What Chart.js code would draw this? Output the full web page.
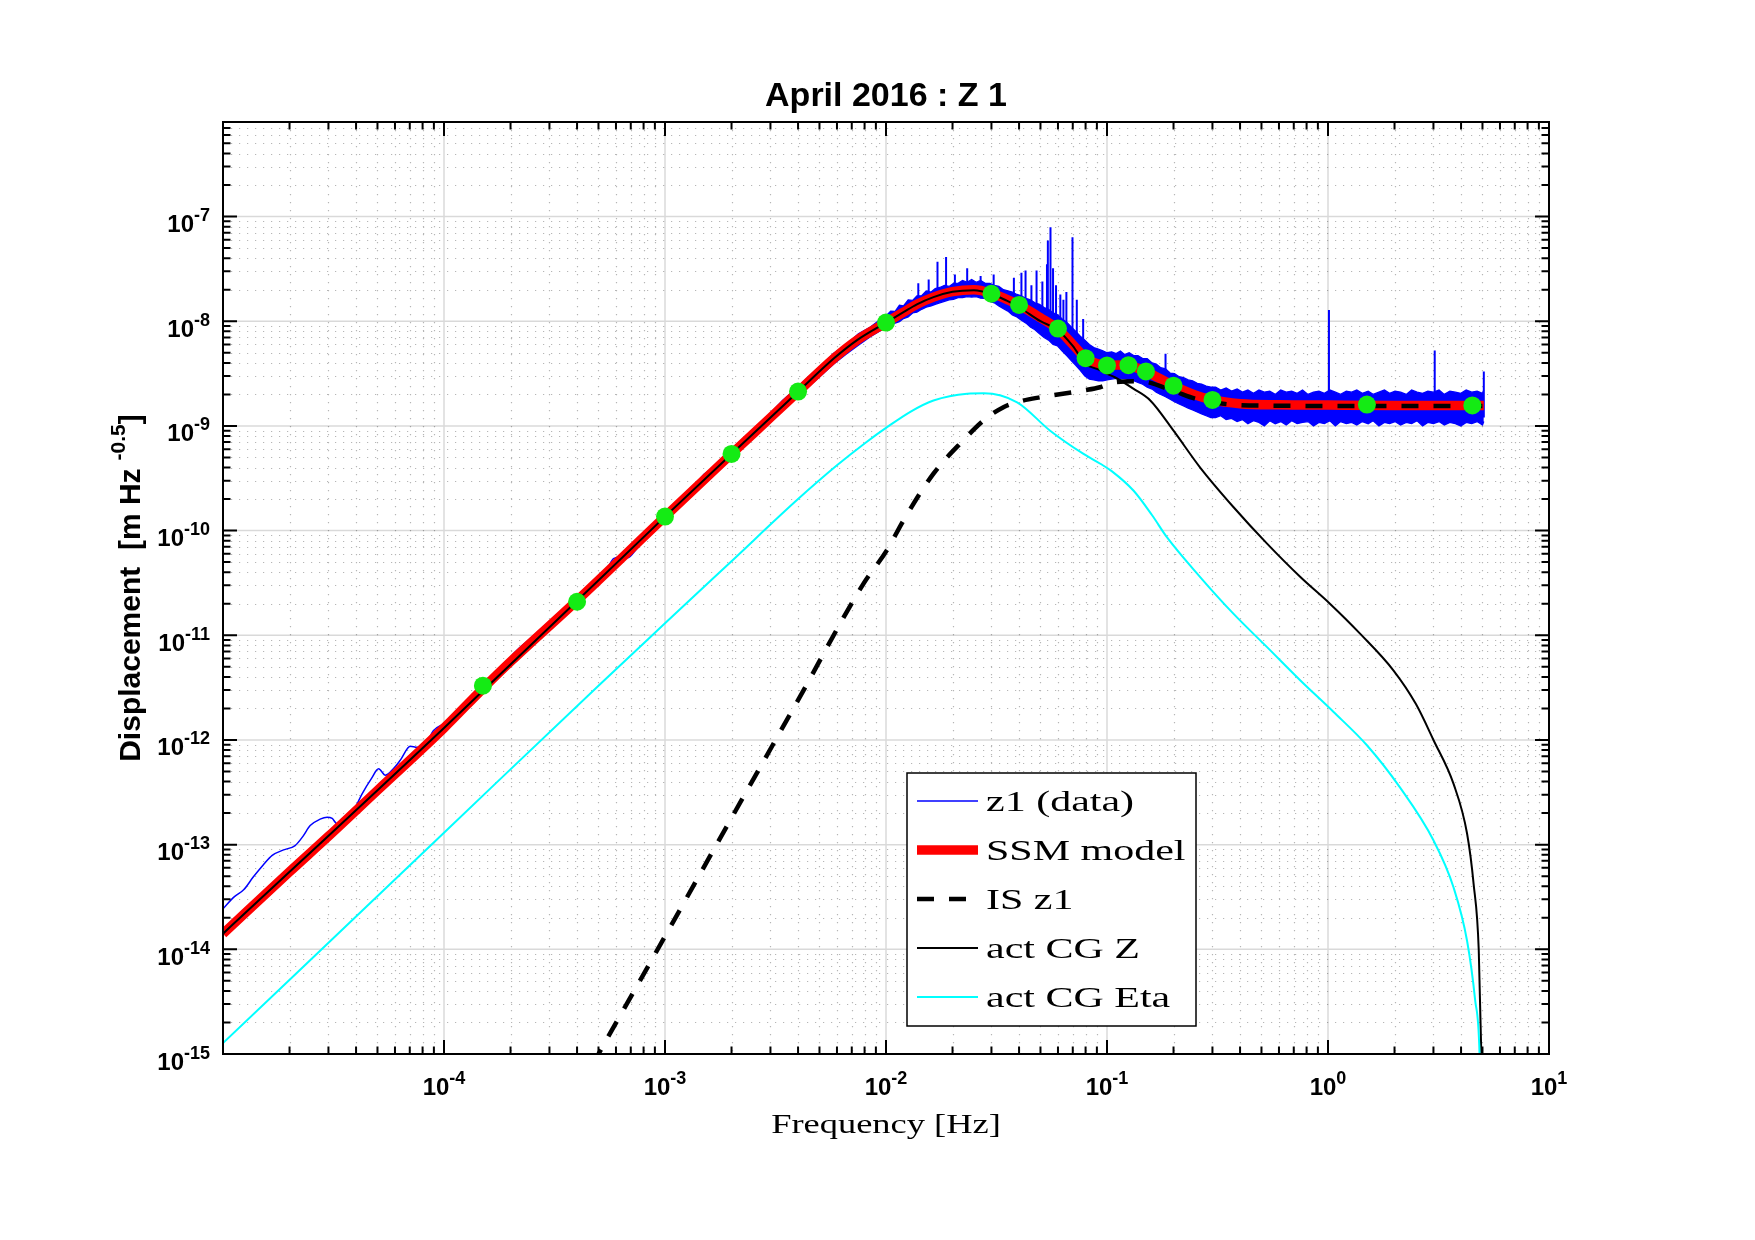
<!DOCTYPE html>
<html>
<head>
<meta charset="utf-8">
<title>April 2016 : Z 1</title>
<script src="https://cdn.jsdelivr.net/npm/chart.js@4.4.1/dist/chart.umd.min.js"></script>
<style>
  html, body { margin: 0; padding: 0; background: #fff; }
  canvas { display: block; }
</style>
</head>
<body>
<canvas id="psd" width="1755" height="1240"></canvas>
<script>
/* ---------- AXES ---------- */
const xLimits = [1e-5, 10];
const yLimits = [1e-15, 8e-7];
const xTickExps = [-4, -3, -2, -1, 0, 1];
const yTickExps = [-15, -14, -13, -12, -11, -10, -9, -8, -7];
const minorSteps = [2, 3, 4, 5, 6, 7, 8, 9];

/* ---------- SSM MODEL (red) ---------- */
const modelF = [1e-5, 2e-5, 3e-5, 5e-5, 1e-4, 1.5e-4, 2e-4, 4e-4, 1e-3, 2e-3, 3e-3, 4e-3,
  5.8e-3, 7.4e-3, 1e-2, 1.2e-2, 1.38e-2, 1.64e-2, 2e-2, 2.5e-2, 3e-2, 3.5e-2, 4e-2, 5e-2,
  6e-2, 7e-2, 8e-2, 9e-2, 0.1, 0.112, 0.125, 0.15, 0.2, 0.25, 0.3, 0.4, 0.6, 1.0, 2.0, 5.07];
const modelV = [1.41e-14, 5.5e-14, 1.2e-13, 3.3e-13, 1.3e-12, 3.1e-12, 5.6e-12, 2.15e-11, 1.36e-10, 5.4e-10, 1.2e-9, 2.12e-9,
  4.4e-9, 6.6e-9, 9.7e-9, 1.22e-8, 1.45e-8, 1.7e-8, 1.92e-8, 2.0e-8, 1.85e-8, 1.63e-8, 1.43e-8, 1.08e-8,
  8.4e-9, 6.0e-9, 4.45e-9, 3.95e-9, 3.78e-9, 3.82e-9, 3.78e-9, 3.3e-9, 2.42e-9, 1.98e-9, 1.77e-9, 1.63e-9, 1.59e-9, 1.58e-9, 1.57e-9, 1.57e-9];

/* ---------- IS z1 (dashed) ---------- */
const isF = [4.0e-4, 5.0e-4, 1.0e-3, 2.0e-3, 4.0e-3, 7.9e-3, 1.01e-2, 1.2e-2, 1.64e-2, 2.24e-2, 2.77e-2,
  3.4e-2, 4.06e-2, 5.0e-2, 7.8e-2, 9.3e-2, 0.107, 0.141, 0.2, 0.25, 0.3, 0.4, 0.6, 1.0, 5.07];
const isV = [4.3e-16, 1.0e-15, 1.33e-14, 1.8e-13, 2.4e-12, 3.1e-11, 6.5e-11, 1.25e-10, 3.5e-10, 7.3e-10, 1.13e-9,
  1.51e-9, 1.72e-9, 1.88e-9, 2.18e-9, 2.34e-9, 2.6e-9, 2.67e-9, 2.15e-9, 1.82e-9, 1.68e-9, 1.58e-9, 1.56e-9, 1.55e-9, 1.55e-9];

/* ---------- act CG Z (black) ---------- */
const czF = [1e-5, 1e-4, 1e-3, 2e-3, 4e-3, 5.8e-3, 7.4e-3, 1e-2, 1.2e-2, 1.38e-2, 1.64e-2, 2e-2, 2.5e-2,
  3e-2, 3.5e-2, 4e-2, 5e-2, 6e-2, 7e-2, 8e-2, 9e-2, 0.1, 0.109, 0.132, 0.157, 0.2, 0.264, 0.374,
  0.53, 0.75, 1.02, 1.4, 1.98, 2.5, 3.0, 3.7, 4.26, 4.56, 4.81, 4.94, 5.0];
const czV = [1.41e-14, 1.3e-12, 1.36e-10, 5.4e-10, 2.12e-9, 4.4e-9, 6.6e-9, 9.7e-9, 1.22e-8, 1.45e-8, 1.7e-8, 1.91e-8, 1.98e-8,
  1.82e-8, 1.58e-8, 1.36e-8, 1.0e-8, 8.2e-9, 5.8e-9, 3.9e-9, 3.5e-9, 3.15e-9, 2.9e-9, 2.26e-9, 1.75e-9, 9.0e-10, 4.0e-10, 1.67e-10,
  7.5e-11, 3.6e-11, 2.0e-11, 1.03e-11, 4.6e-12, 2.2e-12, 1.0e-12, 3.8e-13, 1.27e-13, 4.2e-14, 9.8e-15, 1.0e-15, 2.0e-16];

/* ---------- act CG Eta (cyan) ---------- */
const ceF = [1e-5, 1e-4, 5e-4, 1e-3, 2e-3, 4e-3, 6e-3, 8e-3, 1.03e-2, 1.3e-2, 1.64e-2, 2.33e-2, 2.77e-2, 3.92e-2,
  5.53e-2, 7.83e-2, 9.33e-2, 0.105, 0.132, 0.16, 0.187, 0.264, 0.374, 0.53, 0.75, 1.06, 1.5,
  2.12, 3.0, 3.7, 4.26, 4.63, 4.85, 4.92];
const ceV = [1.27e-15, 1.3e-13, 3.3e-12, 1.3e-11, 5.1e-11, 2.0e-10, 4.2e-10, 6.8e-10, 1.0e-9, 1.38e-9, 1.75e-9, 2.03e-9, 2.05e-9, 1.68e-9,
  9.0e-10, 5.4e-10, 4.35e-10, 3.7e-10, 2.4e-10, 1.4e-10, 8.6e-11, 3.6e-11, 1.6e-11, 7.7e-12, 3.7e-12, 1.85e-12, 8.9e-13,
  3.5e-13, 1.1e-13, 3.9e-14, 1.2e-14, 3.3e-15, 1.0e-15, 2.0e-16];

/* ---------- z1 DATA (blue) : low-frequency trace ---------- */
const lowF = [1.0e-5, 1.12e-5, 1.24e-5, 1.37e-5, 1.52e-5, 1.67e-5, 1.88e-5, 2.12e-5, 2.3e-5, 2.48e-5,
  2.75e-5, 2.96e-5, 3.12e-5, 3.28e-5, 3.6e-5, 3.97e-5, 4.26e-5, 4.7e-5, 5.06e-5, 5.43e-5,
  5.9e-5, 6.34e-5, 7.04e-5, 7.55e-5, 8.2e-5, 8.97e-5, 1.01e-4, 1.2e-4, 1.49e-4, 1.8e-4,
  2.06e-4, 2.5e-4, 3.0e-4, 3.5e-4, 4.0e-4, 4.5e-4, 5.0e-4, 5.5e-4, 5.85e-4, 6.3e-4,
  6.8e-4, 7.4e-4, 8.0e-4, 8.7e-4, 9.3e-4, 1.0e-3];
const lowV = [2.44e-14, 3.15e-14, 3.7e-14, 4.9e-14, 6.4e-14, 7.9e-14, 8.9e-14, 9.8e-14, 1.2e-13, 1.52e-13,
  1.75e-13, 1.83e-13, 1.78e-13, 1.58e-13, 1.8e-13, 2.28e-13, 3.06e-13, 4.3e-13, 5.3e-13, 4.6e-13,
  5.3e-13, 6.4e-13, 8.7e-13, 8.5e-13, 8.9e-13, 1.23e-12, 1.45e-12, 2.05e-12, 3.3e-12, 4.6e-12,
  6.65e-12, 9.6e-12, 1.35e-11, 1.7e-11, 2.15e-11, 2.8e-11, 3.4e-11, 4.4e-11, 5.4e-11, 5.6e-11,
  5.5e-11, 6.6e-11, 8.0e-11, 1.0e-10, 1.15e-10, 1.36e-10];

/* ---------- z1 DATA (blue) : noise band, upper / lower edge ---------- */
const bandF = [
  1.0e-3, 1.15e-3, 1.3e-3, 1.5e-3, 1.7e-3, 2.0e-3, 2.3e-3, 2.6e-3, 3.0e-3, 3.4e-3,
  3.9e-3, 4.5e-3, 5.1e-3, 5.8e-3, 6.6e-3, 7.5e-3, 8.5e-3, 9.6e-3,
  1.00e-2, 1.05e-2, 1.10e-2, 1.15e-2, 1.20e-2, 1.26e-2, 1.32e-2, 1.38e-2, 1.45e-2, 1.52e-2,
  1.60e-2, 1.67e-2, 1.75e-2, 1.84e-2, 1.93e-2, 2.02e-2, 2.12e-2, 2.22e-2, 2.33e-2, 2.44e-2,
  2.56e-2, 2.68e-2, 2.81e-2, 2.95e-2, 3.09e-2, 3.24e-2, 3.40e-2, 3.56e-2, 3.73e-2, 3.91e-2,
  4.10e-2, 4.30e-2, 4.50e-2, 4.72e-2, 4.95e-2, 5.19e-2, 5.44e-2, 5.70e-2, 5.98e-2, 6.27e-2,
  6.57e-2, 6.89e-2, 7.22e-2, 7.57e-2, 7.94e-2, 8.32e-2, 8.72e-2, 9.14e-2, 9.58e-2,
  0.100, 0.105, 0.110, 0.115, 0.120, 0.126, 0.132, 0.138, 0.145, 0.152,
  0.160, 0.167, 0.175, 0.184, 0.193, 0.202, 0.212, 0.222, 0.233, 0.244,
  0.256, 0.268, 0.281, 0.295,
  0.31, 0.327, 0.346, 0.366, 0.388, 0.41, 0.434, 0.46, 0.487, 0.515,
  0.545, 0.577, 0.611, 0.647, 0.685, 0.725, 0.767, 0.812, 0.86, 0.91,
  0.963, 1.02, 1.08, 1.14, 1.21, 1.28, 1.35, 1.43, 1.52, 1.6,
  1.7, 1.8, 1.9, 2.01, 2.13, 2.26, 2.39, 2.53, 2.68, 2.83,
  3.0, 3.18, 3.36, 3.56, 3.77, 3.99, 4.22, 4.47, 4.73, 5.0,
  5.07];
const bandHi = [
  1.45e-10, 1.98e-10, 2.45e-10, 3.45e-10, 4.2e-10, 6.1e-10, 7.7e-10, 1.0e-9, 1.32e-9, 1.75e-9,
  2.25e-9, 3.0e-9, 3.75e-9, 4.95e-9, 5.95e-9, 7.6e-9, 8.8e-9, 1.07e-8,
  1.12e-8, 1.25e-8, 1.24e-8, 1.42e-8, 1.40e-8, 1.60e-8, 1.58e-8, 1.75e-8, 1.75e-8, 1.95e-8,
  1.90e-8, 2.05e-8, 2.10e-8, 2.20e-8, 2.15e-8, 2.30e-8, 2.30e-8, 2.45e-8, 2.35e-8, 2.50e-8,
  2.35e-8, 2.45e-8, 2.30e-8, 2.30e-8, 2.20e-8, 2.15e-8, 2.00e-8, 1.95e-8, 1.90e-8, 1.80e-8,
  1.75e-8, 1.65e-8, 1.60e-8, 1.50e-8, 1.45e-8, 1.35e-8, 1.30e-8, 1.20e-8, 1.15e-8, 1.05e-8,
  9.8e-9, 8.8e-9, 8.0e-9, 7.2e-9, 6.6e-9, 6.0e-9, 5.6e-9, 5.4e-9, 5.2e-9,
  5.0e-9, 5.1e-9, 4.9e-9, 5.2e-9, 4.8e-9, 5.0e-9, 4.7e-9, 4.7e-9, 4.4e-9, 4.4e-9,
  4.0e-9, 3.9e-9, 3.6e-9, 3.5e-9, 3.2e-9, 3.15e-9, 2.95e-9, 2.9e-9, 2.75e-9, 2.7e-9,
  2.55e-9, 2.5e-9, 2.4e-9, 2.35e-9,
  2.35e-9, 2.2e-9, 2.3e-9, 2.15e-9, 2.25e-9, 2.1e-9, 2.2e-9, 2.05e-9, 2.2e-9, 2.1e-9,
  2.15e-9, 2.0e-9, 2.2e-9, 2.1e-9, 2.15e-9, 2.05e-9, 2.2e-9, 2.0e-9, 2.1e-9, 2.15e-9,
  2.05e-9, 2.2e-9, 2.1e-9, 2.0e-9, 2.15e-9, 2.1e-9, 2.2e-9, 2.05e-9, 2.15e-9, 2.0e-9,
  2.1e-9, 2.2e-9, 2.05e-9, 2.15e-9, 2.1e-9, 2.0e-9, 2.2e-9, 2.1e-9, 2.05e-9, 2.15e-9,
  2.1e-9, 2.2e-9, 2.0e-9, 2.15e-9, 2.1e-9, 2.05e-9, 2.2e-9, 2.1e-9, 2.15e-9, 2.05e-9,
  2.2e-9];
const bandLo = [
  1.28e-10, 1.68e-10, 2.15e-10, 2.8e-10, 3.6e-10, 4.95e-10, 6.6e-10, 8.3e-10, 1.1e-9, 1.4e-9,
  1.85e-9, 2.4e-9, 3.05e-9, 3.9e-9, 4.85e-9, 5.9e-9, 7.1e-9, 8.3e-9,
  8.5e-9, 9.0e-9, 9.6e-9, 9.9e-9, 1.06e-8, 1.10e-8, 1.20e-8, 1.22e-8, 1.30e-8, 1.36e-8,
  1.40e-8, 1.45e-8, 1.50e-8, 1.55e-8, 1.60e-8, 1.62e-8, 1.68e-8, 1.68e-8, 1.72e-8, 1.70e-8,
  1.72e-8, 1.66e-8, 1.65e-8, 1.55e-8, 1.50e-8, 1.40e-8, 1.32e-8, 1.25e-8, 1.15e-8, 1.10e-8,
  1.02e-8, 9.6e-9, 8.8e-9, 8.3e-9, 7.6e-9, 7.0e-9, 6.6e-9, 6.0e-9, 5.8e-9, 5.2e-9,
  4.7e-9, 4.2e-9, 3.8e-9, 3.4e-9, 3.0e-9, 2.8e-9, 2.75e-9, 2.7e-9, 2.7e-9,
  2.75e-9, 2.8e-9, 2.85e-9, 2.8e-9, 2.85e-9, 2.75e-9, 2.7e-9, 2.6e-9, 2.5e-9, 2.35e-9,
  2.25e-9, 2.1e-9, 2.0e-9, 1.9e-9, 1.8e-9, 1.7e-9, 1.62e-9, 1.55e-9, 1.48e-9, 1.42e-9,
  1.36e-9, 1.3e-9, 1.25e-9, 1.2e-9,
  1.2e-9, 1.25e-9, 1.15e-9, 1.18e-9, 1.1e-9, 1.15e-9, 1.05e-9, 1.12e-9, 1.08e-9, 1.0e-9,
  1.12e-9, 1.05e-9, 1.1e-9, 1.02e-9, 1.12e-9, 1.05e-9, 1.08e-9, 1.1e-9, 1.0e-9, 1.08e-9,
  1.05e-9, 1.12e-9, 1.0e-9, 1.1e-9, 1.05e-9, 1.08e-9, 1.02e-9, 1.1e-9, 1.05e-9, 1.12e-9,
  1.0e-9, 1.08e-9, 1.05e-9, 1.1e-9, 1.02e-9, 1.08e-9, 1.05e-9, 1.12e-9, 1.0e-9, 1.08e-9,
  1.05e-9, 1.1e-9, 1.02e-9, 1.08e-9, 1.05e-9, 1.0e-9, 1.08e-9, 1.05e-9, 1.1e-9, 1.02e-9,
  1.1e-9];

/* ---------- z1 DATA (blue) : narrow spectral lines ---------- */
const spikeF = [0.0140, 0.0156, 0.0171, 0.0187, 0.0205, 0.0233, 0.0268, 0.0307, 0.0379, 0.041,
  0.0428, 0.0455, 0.048, 0.051, 0.0535, 0.054, 0.0555, 0.057, 0.0588, 0.0615,
  0.0635, 0.0655, 0.0698, 0.073, 0.078, 0.184, 1.01, 3.04, 5.07];
const spikeTop = [2.3e-8, 2.5e-8, 3.7e-8, 4.1e-8, 2.8e-8, 3.2e-8, 2.7e-8, 2.8e-8, 2.6e-8, 2.9e-8,
  3.05e-8, 2.2e-8, 3.05e-8, 2.4e-8, 3.5e-8, 5.9e-8, 7.9e-8, 3.2e-8, 2.2e-8, 1.8e-8,
  1.6e-8, 1.9e-8, 6.35e-8, 1.6e-8, 1.05e-8, 4.9e-9, 1.28e-8, 5.25e-9, 3.3e-9];
const spikeBase = [1.5e-8, 1.6e-8, 1.75e-8, 1.85e-8, 1.9e-8, 2.0e-8, 2.0e-8, 1.9e-8, 1.5e-8, 1.4e-8,
  1.3e-8, 1.2e-8, 1.15e-8, 1.05e-8, 1.0e-8, 1.0e-8, 9.5e-9, 9.0e-9, 8.5e-9, 8.0e-9,
  7.5e-9, 7.0e-9, 6.2e-9, 5.5e-9, 4.5e-9, 2.6e-9, 1.6e-9, 1.6e-9, 1.2e-9];

/* ---------- fit points (green) ---------- */
const dotF = [1.5e-4, 4e-4, 1e-3, 2e-3, 4e-3, 1e-2, 3e-2, 4e-2, 6e-2, 8e-2, 0.1, 0.125, 0.15, 0.2, 0.3, 1.5, 4.5];
const dotV = [3.3e-12, 2.09e-11, 1.36e-10, 5.4e-10, 2.13e-9, 9.7e-9, 1.83e-8, 1.43e-8, 8.5e-9, 4.43e-9,
  3.78e-9, 3.8e-9, 3.31e-9, 2.42e-9, 1.77e-9, 1.6e-9, 1.57e-9];

/* ---------- HELPERS ---------- */
const SANS = '"Liberation Sans", Arial, Helvetica, sans-serif';
const SERIF = '"Liberation Serif", "Times New Roman", serif';

const pts = (fs, vs) => fs.map((f, i) => ({ x: f, y: vs[i] }));

const spikePts = [];
spikeF.forEach((f, i) => {
  spikePts.push({ x: f, y: spikeBase[i] }, { x: f, y: spikeTop[i] }, { x: f, y: null });
});

function decades(lo, hi) {
  const out = [];
  for (let n = Math.floor(Math.log10(lo)); n <= Math.ceil(Math.log10(hi)); n++) out.push(n);
  return out;
}

function powLabel(ctx, exp, x, y, align) {
  const base = '10', sup = String(exp);
  ctx.font = 'bold 24px ' + SANS;
  const wb = ctx.measureText(base).width;
  ctx.font = 'bold 18px ' + SANS;
  const ws = ctx.measureText(sup).width;
  const x0 = align === 'right' ? x - wb - ws : x - (wb + ws) / 2;
  ctx.textAlign = 'left';
  ctx.textBaseline = 'alphabetic';
  ctx.font = 'bold 24px ' + SANS;
  ctx.fillText(base, x0, y);
  ctx.font = 'bold 18px ' + SANS;
  ctx.fillText(sup, x0 + wb, y - 11);
}

function wideText(ctx, text, x, y, sx, align) {
  ctx.save();
  ctx.translate(x, y);
  ctx.scale(sx, 1);
  ctx.textAlign = align;
  ctx.textBaseline = 'alphabetic';
  ctx.fillText(text, 0, 0);
  ctx.restore();
}

/* ---------- MATLAB-STYLE AXES ---------- */
const matlabAxes = {
  id: 'matlabAxes',
  beforeDraw(chart) {
    const ctx = chart.ctx;
    ctx.save();
    ctx.fillStyle = '#fff';
    ctx.fillRect(0, 0, chart.width, chart.height);
    ctx.restore();
  },
  beforeDatasetsDraw(chart) {
    const { ctx, chartArea: a, scales: { x, y } } = chart;
    ctx.save();
    ctx.beginPath();
    ctx.rect(a.left, a.top, a.right - a.left, a.bottom - a.top);
    ctx.clip();

    // minor grid (dotted)
    ctx.strokeStyle = 'rgba(80,80,80,0.42)';
    ctx.lineWidth = 1.2;
    ctx.setLineDash([1.2, 6.8]);
    ctx.beginPath();
    decades(xLimits[0], xLimits[1]).forEach(n => minorSteps.forEach(k => {
      const v = k * Math.pow(10, n);
      if (v <= xLimits[0] || v >= xLimits[1]) return;
      const px = Math.round(x.getPixelForValue(v)) + 0.5;
      ctx.moveTo(px, a.top); ctx.lineTo(px, a.bottom);
    }));
    decades(yLimits[0], yLimits[1]).forEach(n => minorSteps.forEach(k => {
      const v = k * Math.pow(10, n);
      if (v <= yLimits[0] || v >= yLimits[1]) return;
      const py = Math.round(y.getPixelForValue(v)) + 0.5;
      ctx.moveTo(a.left, py); ctx.lineTo(a.right, py);
    }));
    ctx.stroke();

    // major grid (solid, light)
    ctx.setLineDash([]);
    ctx.strokeStyle = 'rgba(0,0,0,0.15)';
    ctx.lineWidth = 1.5;
    ctx.beginPath();
    decades(xLimits[0], xLimits[1]).forEach(n => {
      const v = Math.pow(10, n);
      if (v <= xLimits[0] || v >= xLimits[1]) return;
      const px = x.getPixelForValue(v);
      ctx.moveTo(px, a.top); ctx.lineTo(px, a.bottom);
    });
    decades(yLimits[0], yLimits[1]).forEach(n => {
      const v = Math.pow(10, n);
      if (v <= yLimits[0] || v >= yLimits[1]) return;
      const py = y.getPixelForValue(v);
      ctx.moveTo(a.left, py); ctx.lineTo(a.right, py);
    });
    ctx.stroke();
    ctx.restore();
  },
  afterDatasetsDraw(chart) {
    const { ctx, chartArea: a, scales: { x, y } } = chart;
    ctx.save();
    ctx.strokeStyle = '#000';
    ctx.lineWidth = 2;
    ctx.setLineDash([]);
    ctx.beginPath();
    decades(xLimits[0], xLimits[1]).forEach(n => [1].concat(minorSteps).forEach(k => {
      const v = k * Math.pow(10, n);
      if (v < xLimits[0] * 0.999 || v > xLimits[1] * 1.001) return;
      const px = x.getPixelForValue(v);
      const len = k === 1 ? 14 : 7.5;
      ctx.moveTo(px, a.bottom); ctx.lineTo(px, a.bottom - len);
      ctx.moveTo(px, a.top); ctx.lineTo(px, a.top + len);
    }));
    decades(yLimits[0], yLimits[1]).forEach(n => [1].concat(minorSteps).forEach(k => {
      const v = k * Math.pow(10, n);
      if (v < yLimits[0] * 0.999 || v > yLimits[1] * 1.001) return;
      const py = y.getPixelForValue(v);
      const len = k === 1 ? 14 : 7.5;
      ctx.moveTo(a.left, py); ctx.lineTo(a.left + len, py);
      ctx.moveTo(a.right, py); ctx.lineTo(a.right - len, py);
    }));
    ctx.stroke();
    ctx.strokeRect(a.left, a.top, a.right - a.left, a.bottom - a.top);
    ctx.restore();
  },
  afterDraw(chart) {
    const { ctx, chartArea: a, scales: { x, y } } = chart;
    ctx.save();
    ctx.fillStyle = '#000';

    // tick labels
    xTickExps.forEach(e => powLabel(ctx, e, x.getPixelForValue(Math.pow(10, e)), a.bottom + 41, 'center'));
    yTickExps.forEach(e => powLabel(ctx, e, a.left - 13, y.getPixelForValue(Math.pow(10, e)) + 15.5, 'right'));

    // title
    ctx.font = 'bold 34px ' + SANS;
    ctx.textAlign = 'center';
    ctx.textBaseline = 'alphabetic';
    ctx.fillText('April 2016 : Z 1', (a.left + a.right) / 2, 106);

    // x label
    ctx.font = '27px ' + SERIF;
    wideText(ctx, 'Frequency [Hz]', (a.left + a.right) / 2, 1133, 1.35, 'center');

    // y label
    ctx.save();
    ctx.translate(140, (a.top + a.bottom) / 2);
    ctx.rotate(-Math.PI / 2);
    const main = 'Displacement  [m Hz', sup = '-0.5', close = ']';
    ctx.font = 'bold 30px ' + SANS;
    const wm = ctx.measureText(main).width, wc = ctx.measureText(close).width;
    ctx.font = 'bold 21px ' + SANS;
    const wsup = ctx.measureText(sup).width;
    const gap = 8;
    let x0 = -(wm + gap + wsup + wc) / 2;
    ctx.textAlign = 'left';
    ctx.font = 'bold 30px ' + SANS;
    ctx.fillText(main, x0, 0);
    ctx.font = 'bold 21px ' + SANS;
    ctx.fillText(sup, x0 + wm + gap, -15);
    ctx.font = 'bold 30px ' + SANS;
    ctx.fillText(close, x0 + wm + gap + wsup, 0);
    ctx.restore();

    // legend
    const box = { x: 907, y: 773, w: 289, h: 253 };
    ctx.fillStyle = '#fff';
    ctx.fillRect(box.x, box.y, box.w, box.h);
    ctx.strokeStyle = '#000';
    ctx.lineWidth = 1.5;
    ctx.strokeRect(box.x, box.y, box.w, box.h);
    legendOrder.forEach((idx, i) => {
      const ds = chart.data.datasets[idx];
      const cy = box.y + 28 + i * 49;
      ctx.beginPath();
      ctx.moveTo(box.x + 10, cy);
      ctx.lineTo(box.x + 71, cy);
      ctx.strokeStyle = ds.borderColor;
      ctx.lineWidth = ds.borderWidth;
      ctx.setLineDash(ds.borderDash || []);
      ctx.lineCap = 'butt';
      ctx.stroke();
      ctx.setLineDash([]);
      ctx.fillStyle = '#000';
      ctx.font = '30px ' + SERIF;
      wideText(ctx, ds.label, box.x + 79, cy + 10, 1.4, 'left');
    });
    ctx.restore();
  }
};

/* ---------- CHART ---------- */
const lineBase = { pointRadius: 0, clip: 0, fill: false };

const datasets = [
  { ...lineBase, label: 'fit points', data: pts(dotF, dotV), showLine: false,
    pointRadius: 9, pointBackgroundColor: 'rgb(20,235,20)', pointBorderWidth: 0, order: 0 },
  { ...lineBase, label: 'act CG Eta', data: pts(ceF, ceV), borderColor: '#00ffff', borderWidth: 2,
    cubicInterpolationMode: 'monotone', order: 1 },
  { ...lineBase, label: 'act CG Z', data: pts(czF, czV), borderColor: '#000000', borderWidth: 2,
    cubicInterpolationMode: 'monotone', order: 2 },
  { ...lineBase, label: 'IS z1', data: pts(isF, isV), borderColor: '#000000', borderWidth: 4.5,
    borderDash: [17, 15], cubicInterpolationMode: 'monotone', order: 3 },
  { ...lineBase, label: 'SSM model', data: pts(modelF, modelV), borderColor: '#ff0000', borderWidth: 9.5,
    cubicInterpolationMode: 'monotone', order: 4 },
  { ...lineBase, label: 'z1 lines', data: spikePts, borderColor: '#0000ff', borderWidth: 2,
    spanGaps: false, order: 5 },
  { ...lineBase, label: 'z1 low', data: pts(lowF, lowV), borderColor: '#0000ff', borderWidth: 1.5,
    cubicInterpolationMode: 'monotone', order: 6 },
  { ...lineBase, label: 'z1 (data)', data: pts(bandF, bandHi), borderColor: '#0000ff', borderWidth: 1.3,
    fill: '+1', backgroundColor: '#0000ff', order: 7 },
  { ...lineBase, label: 'z1 band low', data: pts(bandF, bandLo), borderColor: '#0000ff', borderWidth: 1.3,
    order: 8 }
];

const legendOrder = [7, 4, 3, 2, 1];

new Chart(document.getElementById('psd'), {
  type: 'line',
  data: { datasets },
  options: {
    responsive: false,
    animation: false,
    devicePixelRatio: 1,
    events: [],
    layout: { autoPadding: false, padding: { left: 223, right: 206, top: 122, bottom: 186 } },
    plugins: { legend: { display: false }, title: { display: false }, tooltip: { enabled: false } },
    scales: {
      x: {
        type: 'logarithmic', position: 'bottom', min: xLimits[0], max: xLimits[1],
        ticks: { display: false }, grid: { display: false }, border: { display: false },
        afterFit: s => { s.height = 0; }
      },
      y: {
        type: 'logarithmic', position: 'left', min: yLimits[0], max: yLimits[1],
        ticks: { display: false }, grid: { display: false }, border: { display: false },
        afterFit: s => { s.width = 0; }
      }
    }
  },
  plugins: [matlabAxes]
});
</script>
</body>
</html>
